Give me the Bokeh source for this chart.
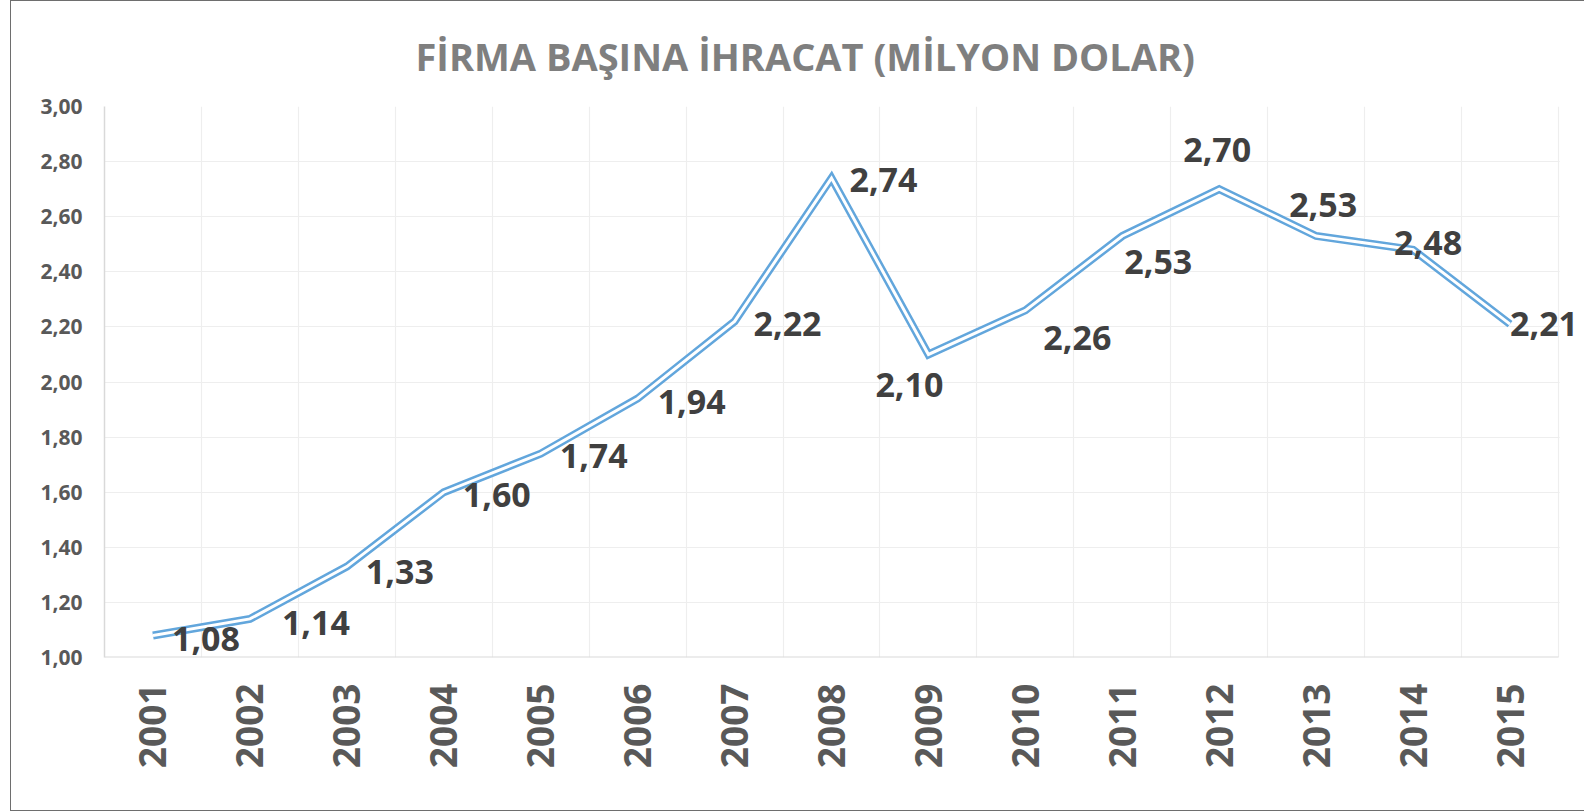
import math
from bokeh.plotting import figure
from bokeh.models import ColumnDataSource, FixedTicker, LabelSet, Range1d, BoxAnnotation
from bokeh.embed import file_html
from bokeh.resources import INLINE
from bokeh.core.properties import value

# ---- data ----
years = ["2001", "2002", "2003", "2004", "2005", "2006", "2007", "2008",
         "2009", "2010", "2011", "2012", "2013", "2014", "2015"]
values = [1.08, 1.14, 1.33, 1.60, 1.74, 1.94, 2.22, 2.74,
          2.10, 2.26, 2.53, 2.70, 2.53, 2.48, 2.21]
value_labels = ["1,08", "1,14", "1,33", "1,60", "1,74", "1,94", "2,22", "2,74",
                "2,10", "2,26", "2,53", "2,70", "2,53", "2,48", "2,21"]
y_ticks = [1.0, 1.2, 1.4, 1.6, 1.8, 2.0, 2.2, 2.4, 2.6, 2.8, 3.0]
y_tick_labels = ["1,00", "1,20", "1,40", "1,60", "1,80", "2,00",
                 "2,20", "2,40", "2,60", "2,80", "3,00"]
title_text = "FİRMA BAŞINA İHRACAT (MİLYON DOLAR)"

# label placement styles (screen px: right, down)
label_dx = [53, 66, 53, 53, 53, 54, 53, 52, -19, 52, 36, -2, 7, 15, 34]
label_dy = [4, 4, 5, 3, 2, 3, 3, 2, 31, 28, 26, -39, -31, -7, 0]

# ---- layout (px) ----
W, H = 1574, 811
LEFT, TOP, BOTTOM = 93, 105, 155
CAT_AREA_PX = 1454          # width of the category area
n = len(years)
frame_px = W - LEFT
x_end = 0.5 + n * frame_px / CAT_AREA_PX   # extra room so edge labels are not clipped
x_last = n + 0.5

xs = list(range(1, n + 1))
src = ColumnDataSource(dict(x=xs, y=values, lab=value_labels,
                            dx=label_dx, dy=[-d for d in label_dy]))

FONT = "Open Sans"

p = figure(width=W, height=H, output_backend="svg", toolbar_location=None,
           x_range=Range1d(0.5, x_end), y_range=Range1d(y_ticks[0], y_ticks[-1]),
           min_border_left=LEFT, min_border_right=0, min_border_top=TOP,
           min_border_bottom=BOTTOM)
p.styles = {"margin-left": "10px", "border-left": "1px solid #6e6e6e",
            "border-top": "1px solid #6e6e6e", "border-bottom": "1px solid #6e6e6e"}
p.outline_line_color = None
p.background_fill_color = "white"
p.border_fill_color = "white"

p.title.text = title_text
p.title.align = "left"
p.title.offset = 311
p.title.text_font = FONT
p.title.text_font_style = "bold"
p.title.text_font_size = "38px"
p.title.text_color = "#7f7f7f"
p.title.standoff = 50

# axes
p.xaxis.ticker = FixedTicker(ticks=xs)
p.xaxis.major_label_overrides = {x: y for x, y in zip(xs, years)}
p.xaxis.major_label_orientation = math.pi / 2
p.xaxis.major_label_text_font = FONT
p.xaxis.major_label_text_font_style = "bold"
p.xaxis.major_label_text_font_size = "37px"
p.xaxis.major_label_text_color = "#595959"
p.xaxis.major_label_standoff = 26
p.xaxis.major_tick_out = 0
p.xaxis.major_tick_in = 0
p.xaxis.major_tick_line_color = None
p.xaxis.minor_tick_line_color = None
p.xaxis.axis_line_color = None

p.yaxis.ticker = FixedTicker(ticks=y_ticks)
p.yaxis.major_label_overrides = {t: l for t, l in zip(y_ticks, y_tick_labels)}
p.yaxis.major_label_text_font = FONT
p.yaxis.major_label_text_font_style = "bold"
p.yaxis.major_label_text_font_size = "21px"
p.yaxis.major_label_text_color = "#595959"
p.yaxis.major_label_standoff = 22
p.yaxis.major_tick_out = 0
p.yaxis.major_tick_in = 0
p.yaxis.major_tick_line_color = None
p.yaxis.minor_tick_line_color = None
p.yaxis.axis_line_color = "#d9d9d9"
p.yaxis.axis_line_width = 1.5

# grids
p.xgrid.ticker = FixedTicker(ticks=[i + 0.5 for i in range(n + 1)])
p.xgrid.grid_line_color = "#eeeeee"
p.xgrid.grid_line_width = 1.2
p.ygrid.ticker = FixedTicker(ticks=y_ticks)
p.ygrid.grid_line_color = "#eeeeee"
p.ygrid.grid_line_width = 1.2

# blank the spare room right of the category area
p.add_layout(BoxAnnotation(left=x_last + 0.012, fill_color="white", fill_alpha=1.0,
                           line_color=None, level="glyph"))

# bottom axis line over the category area only
p.segment(x0=[0.5], y0=[y_ticks[0]], x1=[x_last], y1=[y_ticks[0]],
          line_color="#d9d9d9", line_width=2)

# double line
p.line("x", "y", source=src, line_color="#62a6dc", line_width=8,
       line_join="miter")
p.line("x", "y", source=src, line_color="white", line_width=3,
       line_join="miter")

labels = LabelSet(x="x", y="y", text="lab", source=src,
                  x_offset="dx", y_offset="dy",
                  text_align="center", text_baseline="middle",
                  text_font=value(FONT), text_font_style="bold",
                  text_font_size="34px", text_color="#404040")
p.add_layout(labels)

open("out.html", "w").write(file_html(p, INLINE))
